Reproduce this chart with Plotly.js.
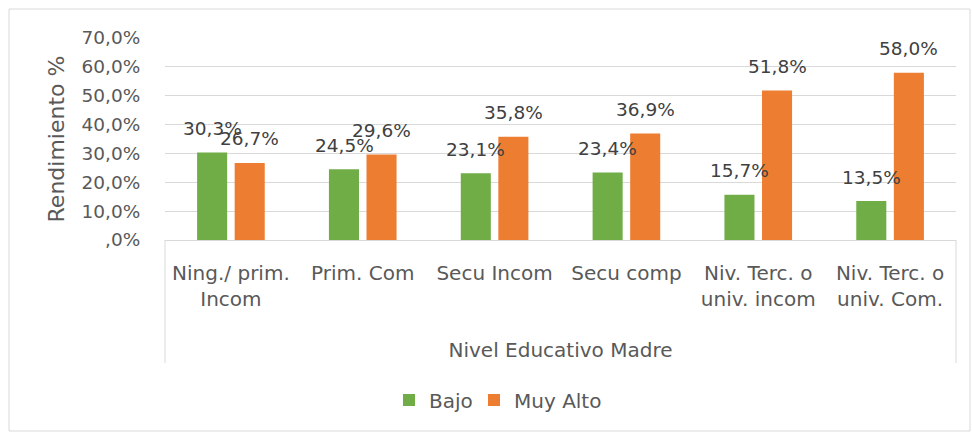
<!DOCTYPE html>
<html>
<head>
<meta charset="utf-8">
<script src="https://cdn.plot.ly/plotly-3.0.1.min.js"></script>
<style>
  html, body { margin: 0; padding: 0; background: #ffffff; }
  #chart { width: 972px; height: 433px; }
</style>
</head>
<body>
<div id="chart"></div>
<script>
// ---- data ----
const categories = [
  "Ning./ prim.<br>Incom",
  "Prim. Com",
  "Secu Incom",
  "Secu comp",
  "Niv. Terc. o<br>univ. incom",
  "Niv. Terc. o<br>univ. Com."
];
const bajo = [30.3, 24.5, 23.1, 23.4, 15.7, 13.5];
const muyAlto = [26.7, 29.6, 35.8, 36.9, 51.8, 58.0];
const seriesNames = ["Bajo", "Muy Alto"];
const yTickVals = [0, 10, 20, 30, 40, 50, 60, 70];
const yTickText = [",0%", "10,0%", "20,0%", "30,0%", "40,0%", "50,0%", "60,0%", "70,0%"];

// ---- styles ----
const FONT = "DejaVu Sans, Liberation Sans, sans-serif";
const green = "#70AD47";
const orange = "#ED7D31";
const gridColor = "#d9d9d9";
const labelColor = "#595959";
const dataLabelColor = "#404040";

function fmt(v) { return v.toFixed(1).replace(".", ",") + "%"; }

const traces = [
  { type: "bar", name: seriesNames[0], x: categories, y: bajo,
    marker: { color: green }, hoverinfo: "none", legend: "legend" },
  { type: "bar", name: seriesNames[1], x: categories, y: muyAlto,
    marker: { color: orange }, hoverinfo: "none", legend: "legend2" }
];

const offset = 18.75;
const annotations = [];
[bajo, muyAlto].forEach((arr, si) => {
  arr.forEach((v, i) => {
    annotations.push({
      x: categories[i], y: v, xref: "x", yref: "y",
      text: fmt(v), showarrow: false,
      xshift: si === 0 ? -offset : offset, yshift: 24,
      yanchor: "middle", xanchor: "center",
      font: { family: FONT, size: 18.5, color: dataLabelColor }
    });
  });
});

const shapes = [
  // outer chart border
  { type: "rect", xref: "paper", yref: "paper",
    x0: (9 - 165) / 791, x1: (970 - 165) / 791,
    y0: (240 - 431) / 202, y1: (240 - 9) / 202,
    line: { color: gridColor, width: 1 }, fillcolor: "rgba(0,0,0,0)", layer: "below" },
  // category box: left and right verticals
  { type: "line", xref: "paper", yref: "paper", x0: 0, x1: 0,
    y0: 0, y1: (240 - 363) / 202, line: { color: gridColor, width: 1 } },
  { type: "line", xref: "paper", yref: "paper", x0: 1, x1: 1,
    y0: 0, y1: (240 - 363) / 202, line: { color: gridColor, width: 1 } }
];

const legendBase = {
  orientation: "h", xanchor: "left",
  y: (240 - 400) / 202, yanchor: "middle",
  font: { family: FONT, size: 20, color: labelColor },
  bgcolor: "rgba(0,0,0,0)"
};

const layout = {
  width: 972, height: 433,
  margin: { l: 165, r: 16, t: 38, b: 193 },
  paper_bgcolor: "#ffffff", plot_bgcolor: "#ffffff",
  font: { family: FONT, color: labelColor },
  barmode: "group",
  bargap: 0.43,
  bargroupgap: 0.2,
  showlegend: true,
  legend: Object.assign({}, legendBase, { x: (389 - 165) / 791 }),
  legend2: Object.assign({}, legendBase, { x: (474 - 165) / 791 }),
  xaxis: {
    type: "category",
    showgrid: false, zeroline: false,
    showline: true, linecolor: gridColor, linewidth: 1,
    ticks: "outside", ticklen: 15, tickcolor: "rgba(0,0,0,0)",
    tickfont: { family: FONT, size: 20, color: labelColor },
    title: { text: "Nivel Educativo Madre", standoff: 32,
      font: { family: FONT, size: 20, color: labelColor } },
    fixedrange: true
  },
  yaxis: {
    range: [0, 70],
    tickvals: yTickVals, ticktext: yTickText,
    showgrid: true, gridcolor: gridColor, gridwidth: 1,
    zeroline: false, showline: false,
    ticks: "outside", ticklen: 20, tickcolor: "rgba(0,0,0,0)",
    tickfont: { family: FONT, size: 18.5, color: labelColor },
    title: { text: "Rendimiento %", standoff: 10,
      font: { family: FONT, size: 22, color: labelColor } },
    fixedrange: true
  },
  annotations: annotations,
  shapes: shapes
};

Plotly.newPlot("chart", traces, layout, { displayModeBar: false, staticPlot: true });
</script>
</body>
</html>
